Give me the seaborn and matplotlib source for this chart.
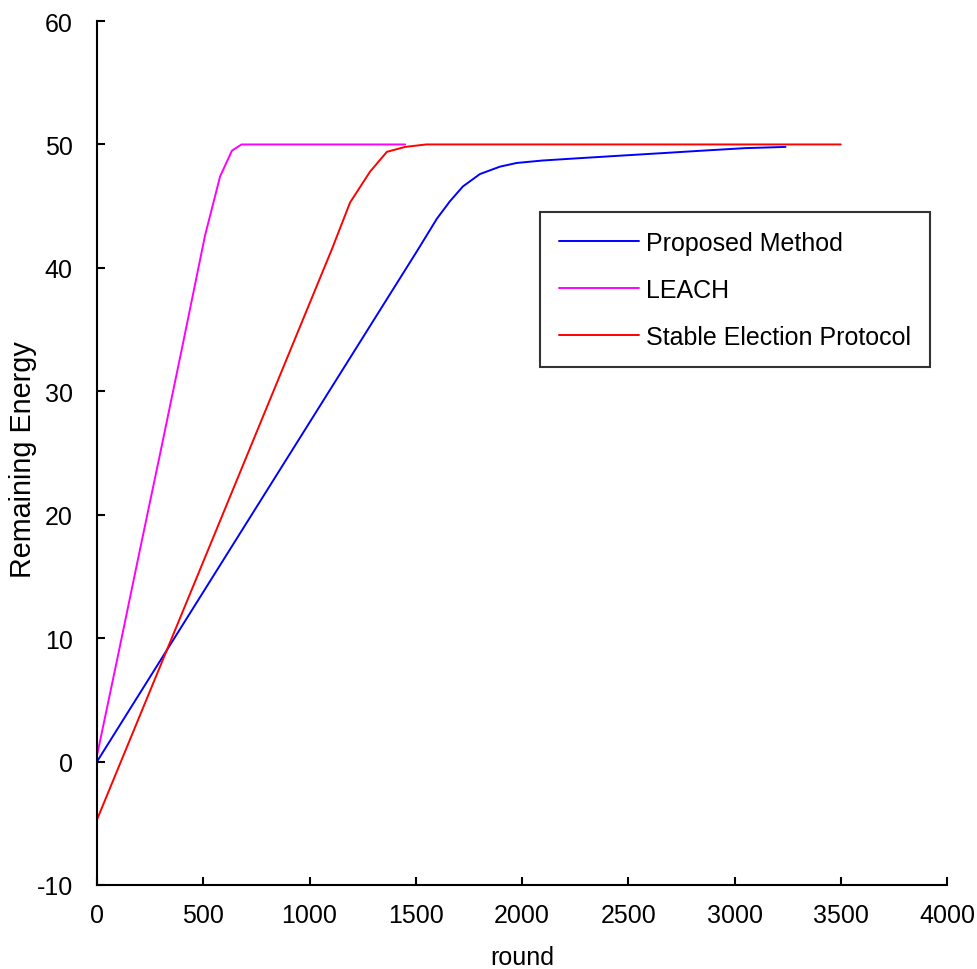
import numpy as np
import pandas as pd
import seaborn as sns
import matplotlib
matplotlib.use("Agg")
import matplotlib.pyplot as plt
from matplotlib import font_manager

# Data
proposed_x = [0, 626, 1511, 1600, 1661, 1722, 1802, 1896, 1975, 2098, 2282, 2471, 2664, 2852, 3049, 3240]
proposed_y = [0.0, 17.2, 41.5, 44.0, 45.4, 46.6, 47.6, 48.2, 48.5, 48.7, 48.9, 49.1, 49.3, 49.5, 49.7, 49.8]

leach_x = [0, 100, 200, 300, 400, 508, 579, 635, 680, 1450]
leach_y = [0.5, 8.7, 17.0, 25.2, 33.5, 42.6, 47.4, 49.5, 50.0, 50.0]

sep_x = [0, 524, 1105, 1191, 1285, 1364, 1450, 1550, 3500]
sep_y = [-4.7, 17.2, 41.5, 45.3, 47.8, 49.4, 49.8, 50.0, 50.0]

labels = ["Proposed Method", "LEACH", "Stable Election Protocol"]
colors = ["#0000ff", "#ff00ff", "#ff0000"]

df = pd.concat([
    pd.DataFrame({"round": proposed_x, "energy": proposed_y, "series": labels[0]}),
    pd.DataFrame({"round": leach_x, "energy": leach_y, "series": labels[1]}),
    pd.DataFrame({"round": sep_x, "energy": sep_y, "series": labels[2]}),
], ignore_index=True)

sns.set_theme(style="white")
names = {f.name for f in font_manager.fontManager.ttflist}
if "Liberation Sans Narrow" in names:
    fam = "Liberation Sans Narrow"
    fs = 21.5
else:
    fam = "Liberation Sans"
    fs = 18
plt.rcParams["font.family"] = [fam, "DejaVu Sans"]
plt.rcParams["axes.unicode_minus"] = False

fig = plt.figure(figsize=(9.78, 9.70), dpi=100)
ax = fig.add_axes([0.0992, 0.0866, 0.8691, 0.8907])

sns.lineplot(data=df, x="round", y="energy", hue="series", hue_order=labels,
             palette=dict(zip(labels, colors)), linewidth=1.4, ax=ax,
             sort=False, estimator=None)

ax.set_xlim(0, 4000)
ax.set_ylim(-10, 60)
ax.set_xticks(np.arange(0, 4001, 500))
ax.set_yticks(np.arange(-10, 61, 10))
ax.tick_params(axis="both", direction="in", length=6, width=1.5, labelsize=fs,
               colors="black", bottom=True, left=True, top=False, right=False)
ax.tick_params(axis="x", pad=13)
ax.tick_params(axis="y", pad=17.5)
for s in ["top", "right"]:
    ax.spines[s].set_visible(False)
for s in ["left", "bottom"]:
    ax.spines[s].set_color("black")
    ax.spines[s].set_linewidth(1.5)

ax.set_xlabel("round", fontsize=fs, color="black", labelpad=13)
ax.set_ylabel("Remaining Energy", fontsize=fs * 1.15, color="black")
ax.yaxis.set_label_coords((37 - 97) / 850, 0.493)

leg = ax.legend(loc="upper right", bbox_to_anchor=(0.98, 0.779), fontsize=fs,
                frameon=True, fancybox=False, edgecolor="black",
                handlelength=3.2, handletextpad=0.3, borderpad=0.75,
                labelspacing=0.92, borderaxespad=0)
leg.get_frame().set_linewidth(1.5)
for t in leg.get_texts():
    t.set_color("black")

fig.savefig("out.png", dpi=100, facecolor="white")
